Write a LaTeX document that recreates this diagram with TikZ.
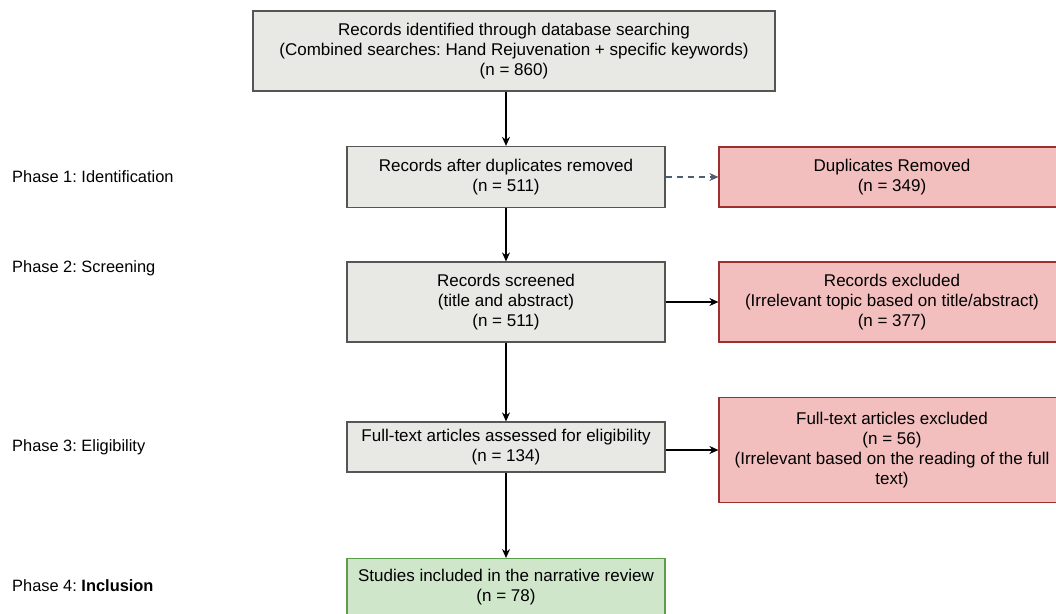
\documentclass[tikz,border=0pt]{standalone}
\usepackage{fontspec}
\setmainfont{Liberation Sans}
\usetikzlibrary{arrows.meta}
\definecolor{greyfill}{HTML}{E8E8E4}
\definecolor{greydraw}{HTML}{555555}
\definecolor{redfill}{HTML}{F2BEBE}
\definecolor{reddraw}{HTML}{9E2F2F}
\definecolor{greenfill}{HTML}{CFE6CA}
\definecolor{greendraw}{HTML}{5C9C4C}
\definecolor{dasharrow}{HTML}{4D5D6D}
\frenchspacing
\begin{document}
\begin{tikzpicture}[x=1pt,y=-1pt,
  txt/.style={font=\fontsize{17}{20}\selectfont, align=center, inner sep=0pt},
  greybox/.style={txt, draw=greydraw, fill=greyfill, line width=1.2pt, minimum width=318pt},
  redbox/.style={txt, draw=reddraw, fill=redfill, line width=1.2pt, minimum width=346pt},
  greenbox/.style={txt, draw=greendraw, fill=greenfill, line width=1.2pt, minimum width=318pt},
  phase/.style={font=\fontsize{16.4}{19}\selectfont, anchor=west, inner sep=0pt},
  arr/.style={-{Stealth[length=9pt,width=8pt]}, line width=1.3pt, black},
  darr/.style={-{Stealth[length=9pt,width=8pt]}, line width=1.2pt, dasharrow, dash pattern=on 6pt off 5pt}
]
\useasboundingbox (0,0) rectangle (1056,613);
\fill[white] (0,0) rectangle (1056,613);

\node[greybox, minimum width=522pt, minimum height=80pt] (top) at (514,51)
  {Records identified through database searching\\(Combined searches: Hand Rejuvenation + specific keywords)\\(n = 860)};
\node[greybox, minimum height=61pt] (b2) at (506,177) {Records after duplicates removed\\(n = 511)};
\node[greybox, minimum height=80pt] (b3) at (506,302) {Records screened\\(title and abstract)\\(n = 511)};
\node[greybox, minimum height=50pt] (b4) at (506,447) {Full-text articles assessed for eligibility\\(n = 134)};
\node[greenbox, inner ysep=11pt, anchor=north] (b5) at (506,558) {Studies included in the narrative review\\(n = 78)};

\node[redbox, minimum height=60pt] (dup) at (892,177) {Duplicates Removed\\(n = 349)};
\node[redbox, minimum height=80pt] (ex1) at (892,302) {Records excluded\\(Irrelevant topic based on title/abstract)\\(n = 377)};
\node[redbox, minimum height=105pt] (ex2) at (892,450) {Full-text articles excluded\\(n = 56)\\(Irrelevant based on the reading of the full\\text)};

\node[phase] (p1) at (12,177) {Phase 1: Identification};
\node[phase] (p2) at (12,268) {Phase 2: Screening};
\node[phase] (p3) at (12,447) {Phase 3: Eligibility};
\node[phase] (p4) at (12,586) {Phase 4: \textbf{Inclusion}};

\draw[arr] (top.south -| b2.north) -- (b2.north);
\draw[arr] (b2) -- (b3);
\draw[arr] (b3) -- (b4);
\draw[arr] (b4) -- (b5);
\draw[darr] (b2.east) -- (dup.west);
\draw[arr] (b3.east) -- (ex1.west);
\draw[arr] (b4.east |- ex2.west) -- (ex2.west);
\end{tikzpicture}
\end{document}
